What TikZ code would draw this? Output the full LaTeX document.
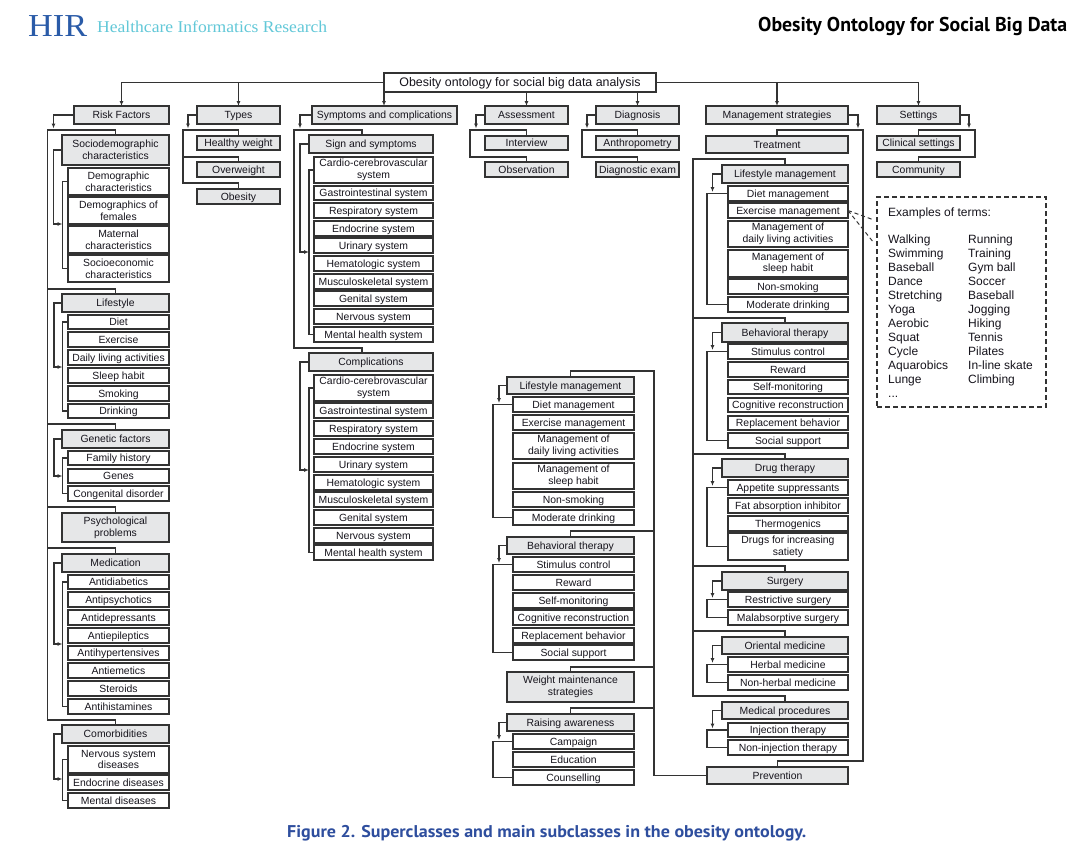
\documentclass[tikz,border=0pt]{standalone}
\usepackage{fontspec}
\usepackage{graphicx}
\usetikzlibrary{arrows.meta,calc}
\newfontfamily\sansf{Liberation Sans}
\newfontfamily\serf{Liberation Serif}
\newfontfamily\ptf{PT Sans}
\definecolor{lc}{HTML}{333333}
\definecolor{tc}{HTML}{16141C}
\definecolor{gf}{HTML}{E6E7E8}
\definecolor{hirblue}{HTML}{2A5BA8}
\definecolor{hirteal}{HTML}{62C8D8}
\definecolor{capblue}{HTML}{2E4E9E}
\newcommand{\mkbox}[7]{%
  \pgfmathsetmacro{\mkW}{#5-#3}%
  \pgfmathsetmacro{\mkH}{#6-#4}%
  \pgfmathsetmacro{\mkX}{(#3+#5)/2}%
  \pgfmathsetmacro{\mkY}{(#4+#6)/2}%
  \node[#2, minimum width=\mkW pt, minimum height=\mkH pt] (#1) at (\mkX,\mkY) {#7};%
}
\begin{document}
\begin{tikzpicture}[x=1pt,y=-1pt,
  bxbase/.style={draw=lc, line width=1.2pt, inner sep=0pt, outer sep=0pt, text=tc,
    font=\sansf\fontsize{10.4}{11.6}\selectfont},
  gs/.style={bxbase, fill=gf, text height=8pt, text depth=0.6pt},
  ws/.style={bxbase, fill=white, text height=8pt, text depth=0.6pt},
  gt/.style={bxbase, fill=gf, align=center},
  wt/.style={bxbase, fill=white, align=center},
  topbox/.style={bxbase, fill=white, font=\sansf\fontsize{12.4}{14}\selectfont, text height=9.6pt, text depth=0.7pt},
  dbox/.style={draw=lc, line width=1.1pt, dash pattern=on 5pt off 3pt},
  ln/.style={draw=lc, line width=1.1pt},
  ar/.style={-{Latex[length=5pt,width=4pt]}},
  exf/.style={inner sep=0pt, text=tc, font=\sansf\fontsize{12}{14}\selectfont}]
\useasboundingbox[fill=white] (0,0) rectangle (1083,855);

% ---------- header ----------
\node[anchor=base west, inner sep=0pt, text=hirblue] (hir) at (28,36)
  {\resizebox{59pt}{\height}{\serf\fontsize{32}{32}\selectfont HIR}};
\node[anchor=base west, inner sep=0pt, text=hirteal] (hirname) at (97,32)
  {\resizebox{230pt}{\height}{\serf\fontsize{16.5}{17}\selectfont Healthcare Informatics Research}};
\node[anchor=base west, inner sep=0pt, text=black] (title) at (758,31)
  {\resizebox{309pt}{\height}{\ptf\bfseries\fontsize{20}{20}\selectfont Obesity Ontology for Social Big Data}};
\node[anchor=base west, inner sep=0pt, text=capblue] (caption) at (287,837)
  {\resizebox{519pt}{\height}{\ptf\bfseries\fontsize{17}{17}\selectfont Figure 2. Superclasses and main subclasses in the obesity ontology.}};

% ---------- top & level 1 ----------
\mkbox{top}{topbox}{384}{73}{656}{92}{Obesity ontology for social big data analysis}
\mkbox{RF}{gs}{74}{106}{169}{124}{Risk Factors}
\mkbox{Types}{gs}{197}{106}{280}{124}{Types}
\mkbox{SC}{gs}{312}{106}{457}{124}{Symptoms and complications}
\mkbox{Assess}{gs}{485}{106}{568}{124}{Assessment}
\mkbox{Diag}{gs}{596}{106}{679}{124}{Diagnosis}
\mkbox{MS}{gs}{706}{106}{848}{124}{Management strategies}
\mkbox{Settings}{gs}{877}{106}{960}{124}{Settings}

% ---------- Types / Assessment / Diagnosis / Settings / Treatment ----------
\mkbox{HW}{gs}{197}{136}{280}{150}{Healthy weight}
\mkbox{Ow}{gs}{197}{162}{280}{177}{Overweight}
\mkbox{Ob}{gs}{197}{189}{280}{204}{Obesity}
\mkbox{Int}{gs}{485}{136}{568}{150}{Interview}
\mkbox{Obs}{gs}{485}{162}{568}{177}{Observation}
\mkbox{Anth}{gs}{596}{136}{679}{150}{Anthropometry}
\mkbox{DE}{gs}{596}{162}{679}{177}{Diagnostic exam}
\mkbox{CS}{gs}{877}{136}{960}{150}{Clinical settings}
\mkbox{Comm}{gs}{877}{162}{960}{177}{Community}
\mkbox{Treat}{gs}{706}{136}{848}{153}{Treatment}

% ---------- Risk factors column ----------
\mkbox{SD}{gt}{62}{135}{169}{165}{Sociodemographic\\characteristics}
\mkbox{DC}{wt}{68}{168}{169}{195}{Demographic\\characteristics}
\mkbox{DF}{wt}{68}{197}{169}{224}{Demographics of\\females}
\mkbox{MC}{wt}{68}{226}{169}{253}{Maternal\\characteristics}
\mkbox{SE}{wt}{68}{255}{169}{282}{Socioeconomic\\characteristics}
\mkbox{LS}{gs}{62}{294}{169}{312}{Lifestyle}
\mkbox{Diet}{ws}{68}{315}{169}{329}{Diet}
\mkbox{Exer}{ws}{68}{332}{169}{347}{Exercise}
\mkbox{DLA}{ws}{68}{350}{169}{365}{Daily living activities}
\mkbox{Sleep}{ws}{68}{368}{169}{383}{Sleep habit}
\mkbox{Smok}{ws}{68}{386}{169}{401}{Smoking}
\mkbox{Drink}{ws}{68}{404}{169}{418}{Drinking}
\mkbox{GF}{gs}{62}{430}{169}{448}{Genetic factors}
\mkbox{FH}{ws}{68}{451}{169}{465}{Family history}
\mkbox{Genes}{ws}{68}{469}{169}{483}{Genes}
\mkbox{CD}{ws}{68}{486}{169}{501}{Congenital disorder}
\mkbox{PP}{gt}{62}{513}{169}{542}{Psychological\\problems}
\mkbox{Med}{gs}{62}{554}{169}{572}{Medication}
\mkbox{Adiab}{ws}{68}{575}{169}{589}{Antidiabetics}
\mkbox{Apsy}{ws}{68}{592}{169}{607}{Antipsychotics}
\mkbox{Adep}{ws}{68}{610}{169}{625}{Antidepressants}
\mkbox{Aepi}{ws}{68}{628}{169}{643}{Antiepileptics}
\mkbox{Ahyp}{ws}{68}{646}{169}{660}{Antihypertensives}
\mkbox{Aeme}{ws}{68}{663}{169}{678}{Antiemetics}
\mkbox{Ster}{ws}{68}{681}{169}{696}{Steroids}
\mkbox{Ahis}{ws}{68}{699}{169}{714}{Antihistamines}
\mkbox{Comorb}{gs}{62}{725}{169}{743}{Comorbidities}
\mkbox{NSD}{wt}{68}{746}{169}{773}{Nervous system\\diseases}
\mkbox{ED}{ws}{68}{775}{169}{790}{Endocrine diseases}
\mkbox{MD}{ws}{68}{793}{169}{808}{Mental diseases}

% ---------- Symptoms column ----------
\mkbox{SS}{gs}{309}{135}{433}{153}{Sign and symptoms}
\mkbox{Sa1}{wt}{314}{157}{433}{183}{Cardio-cerebrovascular\\system}
\mkbox{Sa2}{ws}{314}{186}{433}{200}{Gastrointestinal system}
\mkbox{Sa3}{ws}{314}{203}{433}{218}{Respiratory system}
\mkbox{Sa4}{ws}{314}{221}{433}{236}{Endocrine system}
\mkbox{Sa5}{ws}{314}{238}{433}{253}{Urinary system}
\mkbox{Sa6}{ws}{314}{256}{433}{271}{Hematologic system}
\mkbox{Sa7}{ws}{314}{274}{433}{289}{Musculoskeletal system}
\mkbox{Sa8}{ws}{314}{291}{433}{306}{Genital system}
\mkbox{Sa9}{ws}{314}{309}{433}{324}{Nervous system}
\mkbox{Sa10}{ws}{314}{327}{433}{342}{Mental health system}
\mkbox{Comp}{gs}{309}{353}{433}{371}{Complications}
\mkbox{Sb1}{wt}{314}{375}{433}{401}{Cardio-cerebrovascular\\system}
\mkbox{Sb2}{ws}{314}{403}{433}{418}{Gastrointestinal system}
\mkbox{Sb3}{ws}{314}{421}{433}{436}{Respiratory system}
\mkbox{Sb4}{ws}{314}{439}{433}{454}{Endocrine system}
\mkbox{Sb5}{ws}{314}{457}{433}{472}{Urinary system}
\mkbox{Sb6}{ws}{314}{475}{433}{490}{Hematologic system}
\mkbox{Sb7}{ws}{314}{492}{433}{507}{Musculoskeletal system}
\mkbox{Sb8}{ws}{314}{510}{433}{525}{Genital system}
\mkbox{Sb9}{ws}{314}{528}{433}{543}{Nervous system}
\mkbox{Sb10}{ws}{314}{545}{433}{560}{Mental health system}

% ---------- Middle column (Prevention) ----------
\mkbox{LMa}{gs}{507}{377}{634}{394}{Lifestyle management}
\mkbox{Ma1}{ws}{513}{397}{634}{412}{Diet management}
\mkbox{Ma2}{ws}{513}{415}{634}{430}{Exercise management}
\mkbox{Ma3}{wt}{513}{433}{634}{459}{Management of\\daily living activities}
\mkbox{Ma4}{wt}{513}{463}{634}{489}{Management of\\sleep habit}
\mkbox{Ma5}{ws}{513}{492}{634}{507}{Non-smoking}
\mkbox{Ma6}{ws}{513}{510}{634}{525}{Moderate drinking}
\mkbox{BTa}{gs}{507}{537}{634}{554}{Behavioral therapy}
\mkbox{Ba1}{ws}{513}{557}{634}{572}{Stimulus control}
\mkbox{Ba2}{ws}{513}{575}{634}{590}{Reward}
\mkbox{Ba3}{ws}{513}{593}{634}{608}{Self-monitoring}
\mkbox{Ba4}{ws}{513}{610}{634}{625}{Cognitive reconstruction}
\mkbox{Ba5}{ws}{513}{628}{634}{643}{Replacement behavior}
\mkbox{Ba6}{ws}{513}{645}{634}{660}{Social support}
\mkbox{WMS}{gt}{507}{672}{634}{702}{Weight maintenance\\strategies}
\mkbox{RA}{gs}{507}{714}{634}{731}{Raising awareness}
\mkbox{Ra1}{ws}{513}{734}{634}{749}{Campaign}
\mkbox{Ra2}{ws}{513}{752}{634}{767}{Education}
\mkbox{Ra3}{ws}{513}{770}{634}{785}{Counselling}

% ---------- Right column (Treatment) ----------
\mkbox{LMb}{gs}{722}{165}{848}{183}{Lifestyle management}
\mkbox{Mb1}{ws}{728}{186}{848}{201}{Diet management}
\mkbox{Mb2}{ws}{728}{203}{848}{218}{Exercise management}
\mkbox{Mb3}{wt}{728}{221}{848}{247}{Management of\\daily living activities}
\mkbox{Mb4}{wt}{728}{250}{848}{277}{Management of\\sleep habit}
\mkbox{Mb5}{ws}{728}{279}{848}{294}{Non-smoking}
\mkbox{Mb6}{ws}{728}{297}{848}{312}{Moderate drinking}
\mkbox{BTb}{gs}{722}{323}{848}{342}{Behavioral therapy}
\mkbox{Bb1}{ws}{728}{344}{848}{359}{Stimulus control}
\mkbox{Bb2}{ws}{728}{362}{848}{377}{Reward}
\mkbox{Bb3}{ws}{728}{380}{848}{394}{Self-monitoring}
\mkbox{Bb4}{ws}{728}{398}{848}{412}{Cognitive reconstruction}
\mkbox{Bb5}{ws}{728}{416}{848}{430}{Replacement behavior}
\mkbox{Bb6}{ws}{728}{433}{848}{448}{Social support}
\mkbox{DT}{gs}{722}{459}{848}{477}{Drug therapy}
\mkbox{Db1}{ws}{728}{480}{848}{495}{Appetite suppressants}
\mkbox{Db2}{ws}{728}{498}{848}{513}{Fat absorption inhibitor}
\mkbox{Db3}{ws}{728}{516}{848}{531}{Thermogenics}
\mkbox{Db4}{wt}{728}{533}{848}{560}{Drugs for increasing\\satiety}
\mkbox{Surg}{gs}{722}{572}{848}{590}{Surgery}
\mkbox{Sg1}{ws}{728}{592}{848}{607}{Restrictive surgery}
\mkbox{Sg2}{ws}{728}{610}{848}{625}{Malabsorptive surgery}
\mkbox{OM}{gs}{722}{637}{848}{654}{Oriental medicine}
\mkbox{Om1}{ws}{728}{657}{848}{672}{Herbal medicine}
\mkbox{Om2}{ws}{728}{675}{848}{690}{Non-herbal medicine}
\mkbox{MP}{gs}{722}{702}{848}{719}{Medical procedures}
\mkbox{Mp1}{ws}{728}{723}{848}{737}{Injection therapy}
\mkbox{Mp2}{ws}{728}{740}{848}{755}{Non-injection therapy}
\mkbox{Prev}{gs}{707}{767}{848}{784}{Prevention}

% ---------- Examples box ----------
\mkbox{ex}{dbox}{877}{197}{1046}{407}{}
\node[exf, anchor=base west] (exhead) at (888,216) {Examples of terms:};
\foreach [count=\i] \a/\b in {Walking/Running, Swimming/Training, Baseball/Gym ball,
  Dance/Soccer, Stretching/Baseball, Yoga/Jogging, Aerobic/Hiking, Squat/Tennis,
  Cycle/Pilates, Aquarobics/In-line skate, Lunge/Climbing}{
  \node[exf, anchor=base west] (ta\i) at (888,229+14*\i) {\a};
  \node[exf, anchor=base west] (tb\i) at (968,229+14*\i) {\b};
}
\node[exf, anchor=base west] (tdots) at (888,397) {...};
\draw[ln, line width=1pt, dash pattern=on 4pt off 3pt] (Mb2.east) -- (874,220);
\draw[ln, line width=1pt, dash pattern=on 4pt off 3pt] (Mb2.east) -- (874,243);

% ---------- top connectors ----------
\draw[ln,ar] (top.west) -| (RF.north);
\draw[ln,ar] (top.west -| Types.north) -- (Types.north);
\draw[ln,ar] (top.south west) -- (top.south west |- SC.north);
\draw[ln,ar] (top.south -| Assess.north) -- (Assess.north);
\draw[ln,ar] (top.south -| Diag.north) -- (Diag.north);
\draw[ln,ar] (top.east) -| (Settings.north);
\draw[ln,ar] (top.east -| MS.north) -- (MS.north);

% ---------- level 1 brackets ----------
\draw[ln,ar] (RF.west) -| (53.5,128.5);
\draw[ln] (SD.north) |- (47.5,130) -- (47.5,720) -| (Comorb.north);
\draw[ln] (47.5,289) -| (LS.north);
\draw[ln] (47.5,424) -| (GF.north);
\draw[ln] (47.5,507) -| (PP.north);
\draw[ln] (47.5,548) -| (Med.north);

\draw[ln,ar] (Types.west) -| (188,128.5);
\draw[ln] (HW.north) |- (183,130) -- (183,183) -| (Ob.north);
\draw[ln] (183,157) -| (Ow.north);

\draw[ln,ar] (SC.west) -| (300,128.5);
\draw[ln] ([xshift=-9pt]SS.north) |- (294,130) -- (294,348) -| ([xshift=-9pt]Comp.north);

\draw[ln,ar] (Assess.west) -| (476,128.5);
\draw[ln] (Int.north) |- (470,130) -- (470,157) -| (Obs.north);
\draw[ln,ar] (Diag.west) -| (587,128.5);
\draw[ln] (Anth.north) |- (582,130) -- (582,157) -| (DE.north);
\draw[ln,ar] (MS.east) -| (858,128.5);
\draw[ln] (Treat.north) |- (863,130) -- (863,761) -| (Prev.north);
\draw[ln,ar] (Settings.east) -| (969,128.5);
\draw[ln] (CS.north) |- (975,130) -- (975,157) -| (Comm.north);

% ---------- left-style inner brackets ----------
\draw[ln,ar] (SD.west) -| (53.5,224) -- (62.5,224);
\draw[ln] (DC.west) -| (62.5,224) |- (SE.west);
\draw[ln,ar] (LS.west) -| (54,367) -- (62.5,367);
\draw[ln] (Diet.west) -| (62.5,367) |- (Drink.west);
\draw[ln,ar] (GF.west) -| (54,476) -- (62.5,476);
\draw[ln] (FH.west) -| (62.5,476) |- (CD.west);
\draw[ln,ar] (Med.west) -| (54,644) -- (62.5,644);
\draw[ln] (Adiab.west) -| (62.5,644) |- (Ahis.west);
\draw[ln,ar] (Comorb.west) -| (54,779) -- (62.5,779);
\draw[ln] (NSD.west) -| (62.5,779) |- (MD.west);
\draw[ln,ar] (SS.west) -| (300,252) -- (309,252);
\draw[ln] (Sa1.west) -| (309,252) |- (Sa10.west);
\draw[ln,ar] (Comp.west) -| (300,470) -- (309,470);
\draw[ln] (Sb1.west) -| (309,470) |- (Sb10.west);

% ---------- middle column ----------
\draw[ln] (Prev.west) -| (654,371) -| (LMa.north);
\draw[ln] (654,531) -| (BTa.north);
\draw[ln] (654,667) -| (WMS.north);
\draw[ln] (654,708) -| (RA.north);
\draw[ln,ar] (LMa.west) -| (499,403);
\draw[ln] (Ma1.west) -- ++(-20,0) |- (Ma6.west);
\draw[ln,ar] (BTa.west) -| (499,563);
\draw[ln] (Ba1.west) -- ++(-20,0) |- (Ba6.west);
\draw[ln,ar] (RA.west) -| (499,740);
\draw[ln] (Ra1.west) -- ++(-20,0) |- (Ra3.west);

% ---------- right column ----------
\draw[ln] (LMb.north) |- (693,159) -- (693,696) -| (MP.north);
\draw[ln] (693,318) -| (BTb.north);
\draw[ln] (693,454) -| (DT.north);
\draw[ln] (693,566) -| (Surg.north);
\draw[ln] (693,631) -| (OM.north);
\draw[ln,ar] (LMb.west) -| (712.5,192);
\draw[ln] (Mb1.west) -- ++(-21,0) |- (Mb6.west);
\draw[ln,ar] (BTb.west) -| (712.5,350);
\draw[ln] (Bb1.west) -- ++(-21,0) |- (Bb6.west);
\draw[ln,ar] (DT.west) -| (712.5,486);
\draw[ln] (Db1.west) -- ++(-21,0) |- (Db4.west);
\draw[ln,ar] (Surg.west) -| (712.5,598);
\draw[ln] (Sg1.west) -- ++(-21,0) |- (Sg2.west);
\draw[ln,ar] (OM.west) -| (712.5,663);
\draw[ln] (Om1.west) -- ++(-21,0) |- (Om2.west);
\draw[ln,ar] (MP.west) -| (712.5,728.5);
\draw[ln] (Mp1.west) -- ++(-21,0) |- (Mp2.west);
\end{tikzpicture}
\end{document}
